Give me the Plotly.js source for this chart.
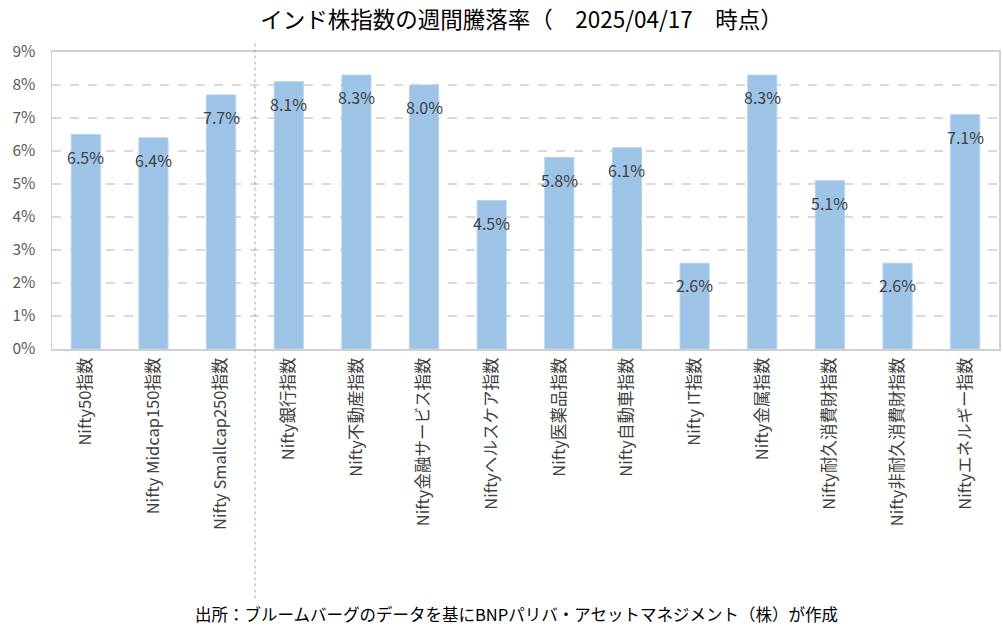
<!DOCTYPE html>
<html>
<head>
<meta charset="utf-8">
<script src="https://cdn.plot.ly/plotly-3.0.1.min.js"></script>
<style>
  html, body { margin: 0; padding: 0; background: #fff; }
  #chart { width: 1003px; height: 644px; }
</style>
</head>
<body>
<div id="chart"></div>
<script>
// インド株指数の週間騰落率 (%)
const categories = [
    'Nifty50指数',
    'Nifty Midcap150指数',
    'Nifty Smallcap250指数',
    'Nifty銀行指数',
    'Nifty不動産指数',
    'Nifty金融サービス指数',
    'Niftyヘルスケア指数',
    'Nifty医薬品指数',
    'Nifty自動車指数',
    'Nifty IT指数',
    'Nifty金属指数',
    'Nifty耐久消費財指数',
    'Nifty非耐久消費財指数',
    'Niftyエネルギー指数'
];
const weeklyReturns = [6.5, 6.4, 7.7, 8.1, 8.3, 8.0, 4.5, 5.8, 6.1, 2.6, 8.3, 5.1, 2.6, 7.1];
const yTicks = [0, 1, 2, 3, 4, 5, 6, 7, 8, 9];

const FONT = '"Noto Sans CJK JP", "Noto Sans", sans-serif';
const barColor = '#9dc3e6';

const traces = [{
    type: 'bar',
    x: categories,
    y: weeklyReturns,
    width: 0.43,
    marker: { color: barColor, line: { color: '#b4d2ee', width: 1 } },
    hoverinfo: 'x+y'
}];

// data labels sit just under the top of each bar
const annotations = categories.map((c, i) => ({
    x: c,
    y: weeklyReturns[i],
    xref: 'x',
    yref: 'y',
    text: weeklyReturns[i].toFixed(1) + '%',
    showarrow: false,
    yanchor: 'middle',
    yshift: -22,
    font: { family: FONT, size: 16, color: '#404040' }
}));

// footer note
annotations.push({
    x: 0.49, y: 0, xref: 'paper', yref: 'paper',
    yshift: -279,
    text: '出所：ブルームバーグのデータを基にBNPパリバ・アセットマネジメント（株）が作成',
    showarrow: false,
    font: { family: FONT, size: 16.5, color: '#000' }
});

const layout = {
    width: 1003,
    height: 644,
    paper_bgcolor: '#fff',
    plot_bgcolor: '#fff',
    margin: { l: 52, r: 4, t: 52, b: 295 },
    title: {
        text: 'インド株指数の週間騰落率（　2025/04/17　時点）',
        font: { family: FONT, size: 22.5, color: '#000' },
        x: 0.52,
        xanchor: 'center',
        y: 0.968,
        yanchor: 'middle'
    },
    showlegend: false,
    bargap: 0.57,
    xaxis: {
        type: 'category',
        tickangle: -90,
        tickfont: { family: FONT, size: 16.5, color: '#404040' },
        showline: true,
        linecolor: '#d0d0d0',
        linewidth: 2,
        mirror: true,
        ticks: '',
        showgrid: false,
        fixedrange: true
    },
    yaxis: {
        range: [0, 9],
        tickvals: yTicks,
        ticktext: yTicks.map(v => v + '%'),
        tickfont: { family: FONT, size: 15.5, color: '#595959' },
        ticklabelstandoff: 12,
        showline: true,
        linecolor: '#d0d0d0',
        linewidth: 1.5,
        mirror: true,
        ticks: '',
        showgrid: true,
        gridcolor: '#d9d9d9',
        gridwidth: 1.3,
        griddash: 'dash',
        zeroline: false,
        fixedrange: true
    },
    shapes: [{
        type: 'line',
        xref: 'x',
        yref: 'paper',
        x0: 2.5, x1: 2.5,
        y0: -0.84, y1: 1.04,
        line: { color: '#a6a6a6', width: 1, dash: 'dot' }
    }],
    annotations: annotations
};

Plotly.newPlot('chart', traces, layout, { displayModeBar: false, staticPlot: true });
</script>
</body>
</html>
